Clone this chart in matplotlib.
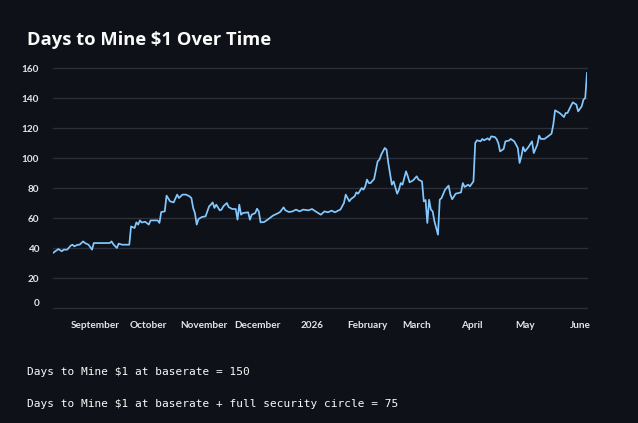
import numpy as np
import pandas as pd
import matplotlib
matplotlib.use("Agg")
import matplotlib.pyplot as plt
import matplotlib.dates as mdates
from matplotlib.ticker import FixedLocator

# days since 2025-09-01
day_offsets = [
    -24, -21, -19, -18, -16, -14, -13, -12, -10, -9, -7, -6, -4, -2, -1, 3, 8,
    9, 10, 12, 13, 15, 18, 19, 20, 22, 23, 24, 25, 26, 28, 30, 31, 35, 36, 37,
    39, 40, 42, 44, 46, 47, 49, 51, 53, 54, 55, 56, 57, 58, 60, 62, 64, 65, 66,
    67, 68, 70, 71, 72, 74, 75, 77, 79, 80, 81, 82, 83, 86, 87, 88, 90, 91, 92,
    93, 95, 97, 100, 103, 104, 106, 107, 109, 111, 113, 115, 117, 120, 122, 124,
    127, 129, 131, 133, 135, 137, 138, 140, 141, 143, 144, 146, 147, 148, 150,
    151, 152, 153, 154, 155, 157, 159, 160, 161, 163, 164, 165, 167, 168, 170,
    171, 172, 173, 175, 176, 177, 179, 181, 182, 184, 185, 186, 187, 188, 189,
    190, 191, 193, 194, 195, 197, 199, 200, 201, 203, 206, 207, 208, 210, 211,
    213, 214, 215, 217, 218, 219, 221, 222, 223, 225, 226, 227, 228, 230, 231,
    233, 234, 236, 238, 239, 240, 241, 242, 244, 246, 247, 249, 250, 251, 253,
    255, 257, 258, 259, 261, 262, 264, 265, 266, 268, 269, 271, 272, 274, 275,
    276, 277,
]
days_to_mine = [
    36.7, 39.3, 37.8, 38.9, 38.9, 41.6, 42.2, 41.1, 42.2, 42.2, 44.4, 43.3, 42.2,
    38.9, 43.3, 43.3, 43.3, 44.4, 42.5, 40.0, 42.9, 42.2, 42.2, 42.2, 54.4, 53.3,
    57.1, 55.6, 58.4, 57.0, 57.5, 55.6, 58.4, 58.4, 56.7, 64.0, 64.4, 74.9, 71.1,
    70.4, 75.6, 73.3, 75.6, 75.6, 74.4, 73.3, 66.7, 63.3, 55.6, 59.3, 60.7, 61.1,
    67.8, 68.9, 70.4, 66.7, 68.9, 65.1, 65.6, 67.8, 70.0, 67.3, 66.0, 66.0, 58.9,
    68.9, 62.2, 63.3, 63.8, 58.9, 62.2, 63.3, 66.2, 64.4, 57.1, 57.3, 58.9, 61.6,
    63.3, 64.0, 67.1, 65.1, 64.0, 64.4, 65.6, 64.4, 65.6, 65.1, 66.0, 64.4, 62.2,
    64.4, 63.8, 64.9, 63.8, 65.1, 65.6, 70.0, 75.6, 71.1, 72.7, 74.4, 77.1, 76.2,
    80.0, 78.9, 81.1, 85.6, 83.3, 83.3, 86.0, 97.8, 98.9, 102.2, 106.7, 105.6,
    96.7, 82.2, 84.4, 76.2, 78.9, 83.3, 82.2, 91.1, 87.8, 83.8, 85.1, 87.8, 85.6,
    84.4, 71.1, 72.0, 56.7, 72.2, 65.6, 64.4, 57.8, 48.9, 72.2, 73.3, 78.9, 81.6,
    75.6, 72.5, 76.2, 77.1, 83.3, 80.7, 82.2, 81.1, 84.4, 110.0, 111.8, 111.1,
    112.7, 111.8, 113.1, 112.0, 114.4, 114.0, 112.7, 110.0, 104.4, 106.0, 111.1,
    111.6, 112.7, 111.1, 106.7, 96.7, 101.1, 107.3, 104.4, 107.3, 111.1, 103.3,
    108.9, 114.9, 112.7, 112.7, 114.4, 116.2, 122.2, 131.8, 130.4, 129.6, 127.3,
    130.0, 130.0, 134.9, 137.1, 135.6, 131.1, 134.4, 138.9, 140.0, 156.7,
]

month_starts = ["2025-09-01", "2025-10-01", "2025-11-01", "2025-12-01", "2026-01-01",
                "2026-02-01", "2026-03-01", "2026-04-01", "2026-05-01", "2026-06-01"]
month_labels = ["September", "October", "November", "December", "2026",
                "February", "March", "April", "May", "June"]
y_ticks = [0, 20, 40, 60, 80, 100, 120, 140, 160]

title = "Days to Mine $1 Over Time"
notes = ["Days to Mine $1 at baserate = 150",
         "Days to Mine $1 at baserate + full security circle = 75"]

BG = "#0e1117"
FG = "#fafafa"
TICK = "#e4e4e8"
LINE = "#83c9ff"
GRID = "#2c2f38"

dates = pd.Timestamp("2025-09-01") + pd.to_timedelta(day_offsets, unit="D")

fig = plt.figure(figsize=(6.38, 4.23), dpi=100, facecolor=BG)
ax = fig.add_axes([53 / 638, 1 - 308 / 423, 534 / 638, 240 / 423], facecolor=BG)

ax.plot(dates, days_to_mine, color=LINE, lw=1.25, solid_joinstyle="round")

ax.set_xlim(dates[0], dates[-1])
ax.set_ylim(0, 160)
ax.yaxis.set_major_locator(FixedLocator(y_ticks))
ax.set_yticklabels([str(v) for v in y_ticks])
ticks = mdates.date2num(pd.to_datetime(month_starts))
ax.xaxis.set_major_locator(FixedLocator(ticks))
ax.set_xticklabels(month_labels)

ax.grid(axis="y", color=GRID, lw=1)
for gl in ax.get_ygridlines():
    gl.set_clip_on(False)
ax.set_axisbelow(True)
for s in ax.spines.values():
    s.set_visible(False)
ax.tick_params(axis="both", length=0, colors=TICK, labelsize=7.2)
ax.tick_params(axis="y", pad=10)
ax.tick_params(axis="x", pad=9)
for lab in ax.get_yticklabels() + ax.get_xticklabels():
    lab.set_fontfamily("Lato")
    lab.set_fontweight("bold")
ax.get_yticklabels()[0].set_va("bottom")

fig.text(27 / 638, 1 - 40 / 423, title, color=FG, fontsize=13.2, fontweight="bold",
         family="Open Sans", va="center", ha="left")
fig.text(27 / 638, 1 - 372 / 423, notes[0], color=FG, fontsize=8,
         family="DejaVu Sans Mono", va="center", ha="left")
fig.text(27 / 638, 1 - 404 / 423, notes[1], color=FG, fontsize=8,
         family="DejaVu Sans Mono", va="center", ha="left")

fig.savefig("out.png", dpi=100, facecolor=BG)
